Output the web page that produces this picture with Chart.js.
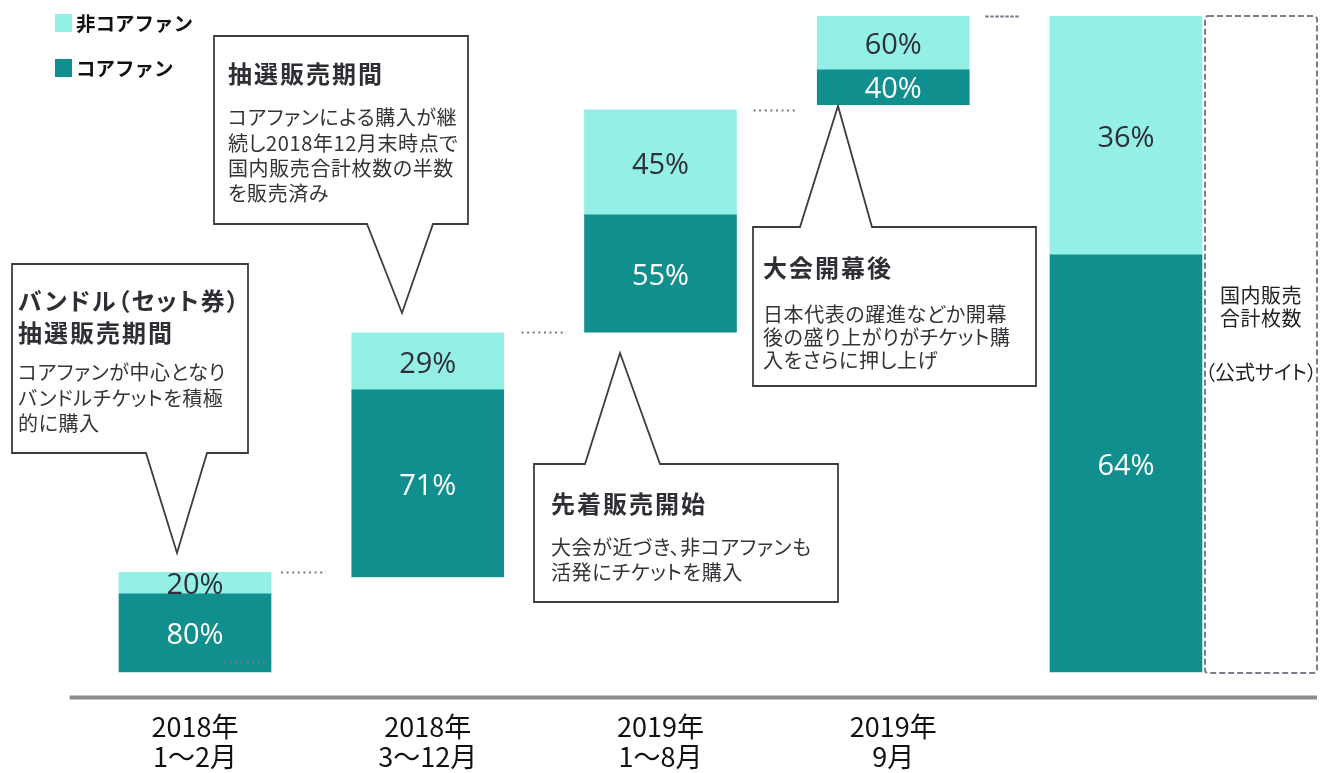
<!DOCTYPE html>
<html><head><meta charset="utf-8">
<script src="https://cdn.jsdelivr.net/npm/chart.js@4/dist/chart.umd.min.js"></script>
<style>
html,body{margin:0;padding:0;background:#fff;}
#wrap{position:relative;width:1322px;height:773px;overflow:hidden;background:#fff;}
#c{position:absolute;left:0;top:0;}
.t{position:absolute;font-family:"Noto Sans CJK JP","Noto Sans",sans-serif;white-space:nowrap;color:#333;}
.palt{font-feature-settings:"palt";}
.sq{position:absolute;}
</style></head>
<body><div id="wrap"><canvas id="c" width="1322" height="773"></canvas><div id="overlay"></div></div>
<script>
// ---------- data ----------
const categories = [['2018年','1～2月'], ['2018年','3～12月'], ['2019年','1～8月'], ['2019年','9月'], ''];
// cumulative share of total domestic ticket sales (%)
const periodStart = [0, 14.5, 51.8, 86.5, 0];
const coreEnd     = [11.9, 43.0, 69.7, 91.8, 63.6];
const periodEnd   = [15.2, 51.7, 85.7, 100, 100];
const coreShareLabels    = ['80%', '71%', '55%', '40%', '64%'];
const nonCoreShareLabels = ['20%', '29%', '45%', '60%', '36%'];
const seriesNames = ['コアファン', '非コアファン'];

// ---------- styles / layout ----------
const CORE_COLOR = '#118f8e';
const NONCORE_COLOR = '#94f0e6';
const coreRanges = periodStart.map((s, i) => [s, coreEnd[i]]);
const nonCoreRanges = coreEnd.map((s, i) => [s, periodEnd[i]]);

const callouts = [
  {box:[12,264,248,453], edge:'bottom', base:[146,207], tip:[177,553], tx:18,
   title:['バンドル（セット券）','抽選販売期間'], titleY:[300,332],
   body:['コアファンが中心となり','バンドルチケットを積極','的に購入'], bodyY:[372,398,423]},
  {box:[214,36,468,224], edge:'bottom', base:[367,433], tip:[402,313], tx:228,
   title:['抽選販売期間'], titleY:[73],
   body:['コアファンによる購入が継','続し2018年12月末時点で','国内販売合計枚数の半数','を販売済み'], bodyY:[117,143,168,193]},
  {box:[534,464,838,602], edge:'top', base:[585,660], tip:[620,353], tx:551,
   title:['先着販売開始'], titleY:[503],
   body:['大会が近づき、非コアファンも','活発にチケットを購入'], bodyY:[547,572]},
  {box:[753,227,1036,386], edge:'top', base:[800,872], tip:[838,106], tx:763,
   title:['大会開幕後'], titleY:[267],
   body:['日本代表の躍進などか開幕','後の盛り上がりがチケット購','入をさらに押し上げ'], bodyY:[314,337,360]}
];

// ---------- plugins ----------
const decorPlugin = {
  id: 'decor',
  afterDatasetsDraw(chart) {
    const ctx = chart.ctx;
    const y = chart.scales.y;
    const metaCore = chart.getDatasetMeta(0);
    const metaNon = chart.getDatasetMeta(1);
    // bar share labels
    [[metaCore, coreShareLabels, '#ffffff'], [metaNon, nonCoreShareLabels, '#2f2f37']].forEach(([meta, labels, col]) => {
      meta.data.forEach((bar, i) => {
        ctx.save();
        ctx.font = '29px "Open Sans", "DejaVu Sans", sans-serif';
        ctx.fillStyle = col;
        ctx.textAlign = 'center';
        ctx.textBaseline = 'middle';
        ctx.fillText(labels[i], bar.x, (bar.y + bar.base) / 2 + 3);
        ctx.restore();
      });
    });
    // dotted connectors
    const cx = i => metaCore.data[i].x;
    const connectors = [
      {v: periodEnd[0], x0: cx(0) + 86, x1: cx(0) + 131, dash: [2, 3.6]},
      {v: periodStart[0], dy: -10, x0: cx(0) + 29, x1: cx(0) + 73, dash: [2, 3.6], color: '#8a6f7a'},
      {v: periodStart[2], x0: cx(2) - 139, x1: cx(2) - 94, dash: [2, 3.6]},
      {v: periodEnd[2], x0: cx(2) + 93, x1: cx(2) + 137, dash: [2, 3.6]},
      {v: periodEnd[3], x0: cx(3) + 92, x1: cx(3) + 127, dash: [3.5, 1.5]}
    ];
    connectors.forEach(c => {
      const py = Math.round(y.getPixelForValue(c.v) + (c.dy || 0)) + 0.5;
      ctx.save();
      ctx.strokeStyle = c.color || '#77778a';
      ctx.lineWidth = 2;
      ctx.setLineDash(c.dash);
      ctx.beginPath(); ctx.moveTo(c.x0, py); ctx.lineTo(c.x1, py); ctx.stroke();
      ctx.restore();
    });
    // dashed "total" box next to last bar
    const last = metaCore.data[4];
    const bx0 = last.x + 76 + 3, bx1 = bx0 + 112;
    const by0 = y.getPixelForValue(100), by1 = y.getPixelForValue(0) + 1;
    ctx.save();
    ctx.strokeStyle = '#7d7d8a';
    ctx.lineWidth = 2;
    ctx.setLineDash([6, 3]);
    ctx.beginPath();
    ctx.roundRect(bx0, by0, bx1 - bx0, by1 - by0, 3);
    ctx.stroke();
    ctx.restore();
    // axis baseline
    const ay = chart.chartArea.bottom + 0.5;
    ctx.save();
    ctx.strokeStyle = '#8c8c8c';
    ctx.lineWidth = 4;
    ctx.beginPath(); ctx.moveTo(chart.chartArea.left - 9, ay); ctx.lineTo(bx1, ay); ctx.stroke();
    ctx.restore();
  },
  afterDraw(chart) {
    const ctx = chart.ctx;
    callouts.forEach(c => {
      const [l, t, r, b] = c.box;
      ctx.save();
      ctx.beginPath();
      if (c.edge === 'bottom') {
        ctx.moveTo(l, t); ctx.lineTo(r, t); ctx.lineTo(r, b);
        ctx.lineTo(c.base[1], b); ctx.lineTo(c.tip[0], c.tip[1]); ctx.lineTo(c.base[0], b);
        ctx.lineTo(l, b);
      } else {
        ctx.moveTo(l, t); ctx.lineTo(c.base[0], t); ctx.lineTo(c.tip[0], c.tip[1]);
        ctx.lineTo(c.base[1], t); ctx.lineTo(r, t); ctx.lineTo(r, b); ctx.lineTo(l, b);
      }
      ctx.closePath();
      ctx.fillStyle = '#ffffff';
      ctx.fill();
      ctx.strokeStyle = '#3c3c44';
      ctx.lineWidth = 1.8;
      ctx.lineJoin = 'miter';
      ctx.stroke();
      ctx.restore();
    });
  }
};

const chart = new Chart(document.getElementById('c'), {
  type: 'bar',
  data: {
    labels: categories,
    datasets: [
      {label: seriesNames[0], data: coreRanges, backgroundColor: CORE_COLOR, grouped: false},
      {label: seriesNames[1], data: nonCoreRanges, backgroundColor: NONCORE_COLOR, grouped: false}
    ]
  },
  options: {
    responsive: false,
    animation: false,
    devicePixelRatio: 1,
    layout: {padding: {left: 78.625, right: 79.625, top: 16, bottom: 0}},
    datasets: {bar: {barThickness: 152, borderWidth: 0}},
    plugins: {legend: {display: false}, tooltip: {enabled: false}},
    scales: {
      x: {
        grid: {display: false, drawTicks: false},
        border: {display: false},
        ticks: {
          color: '#111111', padding: 15, maxRotation: 0, autoSkip: false,
          font: {family: '"Noto Sans CJK JP", sans-serif', size: 27, lineHeight: '30px'}
        },
        afterFit(s) { s.height = 76; }
      },
      y: {display: false, min: -3.81, max: 100}
    }
  },
  plugins: [decorPlugin]
});

// ---------- HTML text overlays ----------
const overlay = document.getElementById('overlay');
function addText(text, x, cy, size, opts = {}) {
  const lh = opts.lh || 30;
  const d = document.createElement('div');
  d.className = 't' + (opts.palt ? ' palt' : '');
  d.textContent = text;
  d.style.fontSize = size + 'px';
  d.style.lineHeight = lh + 'px';
  d.style.height = lh + 'px';
  d.style.top = (cy - lh / 2) + 'px';
  d.style.left = x + 'px';
  if (opts.bold) d.style.fontWeight = '700';
  if (opts.color) d.style.color = opts.color;
  if (opts.ls != null) d.style.letterSpacing = opts.ls + 'px';
  if (opts.center) d.style.transform = 'translateX(-50%)';
  overlay.appendChild(d);
}
callouts.forEach(c => {
  c.title.forEach((s, i) => addText(s, c.tx, c.titleY[i], 24, {bold: true, palt: true, ls: 2, color: '#2e2e35'}));
  c.body.forEach((s, i) => addText(s, c.tx, c.bodyY[i], 20, {palt: true, ls: 0.6, color: '#333338'}));
});
// total box text
const lastBar = chart.getDatasetMeta(0).data[4];
const boxCx = lastBar.x + 76 + 3 + 56;
addText('国内販売', boxCx, 295, 20, {center: true, ls: 0.5, color: '#222'});
addText('合計枚数', boxCx, 318, 20, {center: true, ls: 0.5, color: '#222'});
addText('（公式サイト）', boxCx, 372, 20, {center: true, palt: true, color: '#222'});
// legend
const legendItems = [[seriesNames[1], NONCORE_COLOR, 23], [seriesNames[0], CORE_COLOR, 68]];
legendItems.forEach(([name, col, cy]) => {
  const sq = document.createElement('div');
  sq.className = 'sq';
  sq.style.cssText = `left:55px;top:${cy - 9}px;width:17px;height:18px;background:${col};`;
  overlay.appendChild(sq);
  addText(name, 76, cy, 19.5, {bold: true, color: '#111'});
});
</script>
</body></html>
